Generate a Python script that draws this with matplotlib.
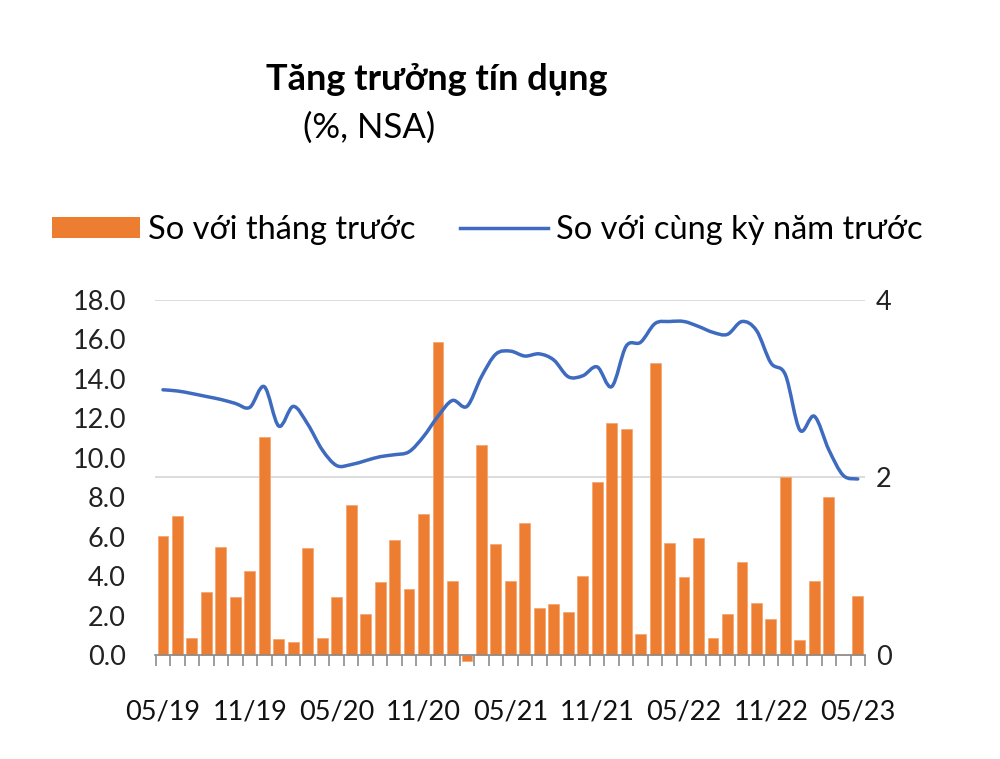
import numpy as np
import matplotlib.pyplot as plt
from matplotlib.path import Path
from matplotlib.patches import PathPatch, Patch
from matplotlib.lines import Line2D

plt.rcParams['font.family'] = ['Lato', 'Open Sans', 'DejaVu Sans']

# DATA (05/2019 - 05/2023, monthly)
tick_labels = ['05/19', '11/19', '05/20', '11/20', '05/21',
               '11/21', '05/22', '11/22', '05/23']

# so với tháng trước (%), right axis
mom = [1.34, 1.57, 0.19, 0.71, 1.22, 0.65, 0.95, 2.45, 0.18, 0.15,
       1.21, 0.19, 0.65, 1.69, 0.46, 0.82, 1.29, 0.74, 1.59, 3.52,
       0.83, -0.07, 2.36, 1.25, 0.83, 1.49, 0.53, 0.57, 0.48, 0.89,
       1.95, 2.61, 2.55, 0.24, 3.29, 1.26, 0.88, 1.32, 0.19, 0.46,
       1.05, 0.59, 0.41, 2.00, 0.17, 0.83, 1.78, 0.00, 0.66]

# so với cùng kỳ năm trước (%), left axis
yoy = [13.44, 13.38, 13.25, 13.10, 12.95, 12.75, 12.55, 13.60, 11.60, 12.60,
       11.70, 10.40, 9.60, 9.65, 9.85, 10.05, 10.15, 10.30, 11.07, 12.10,
       12.90, 12.60, 14.10, 15.25, 15.40, 15.15, 15.26, 14.95, 14.10, 14.15,
       14.60, 13.60, 15.65, 15.85, 16.80, 16.90, 16.90, 16.65, 16.35, 16.25,
       16.90, 16.45, 14.80, 14.20, 11.40, 12.10, 10.40, 9.10, 8.92]

ORANGE = '#ED7D31'
BLUE = '#3E6BBF'

x = np.arange(len(mom))

fig = plt.figure(figsize=(10, 7.59), dpi=100)
ax = fig.add_axes([0.155, 0.137, 0.71, 0.468])   # bars, right scale
ax2 = ax.twinx()                                  # line, left scale

# bars
ax.bar(x, mom, width=0.75, color=ORANGE, edgecolor='#F4A46C', linewidth=0.5,
       clip_on=False, zorder=2)
ax.set_ylim(0, 4)
ax.set_yticks([0, 2, 4])
ax.set_yticklabels(['0', '2', '4'])
ax.yaxis.tick_right()
ax.grid(axis='y', color='#D9D9D9', linewidth=1.3, zorder=0)
ax.set_axisbelow(True)
ax.set_xlim(-0.55, len(mom) - 0.55)

# smooth line (Excel style bezier through the points)
pts = np.column_stack([x, yoy]).astype(float)
verts = [pts[0]]
codes = [Path.MOVETO]
n = len(pts)
for i in range(n - 1):
    p0 = pts[max(i - 1, 0)]
    p1 = pts[i]
    p2 = pts[i + 1]
    p3 = pts[min(i + 2, n - 1)]
    c1 = p1 + (p2 - p0) / 6.0
    c2 = p2 - (p3 - p1) / 6.0
    verts += [c1, c2, p2]
    codes += [Path.CURVE4] * 3
ax2.add_patch(PathPatch(Path(verts, codes), facecolor='none', edgecolor=BLUE,
                        linewidth=2.5, capstyle='round', joinstyle='round', zorder=3))
ax2.set_ylim(0, 18)
ax2.set_yticks(np.arange(0, 19, 2))
ax2.set_yticklabels(['%.1f' % v for v in np.arange(0, 19, 2)])
ax2.yaxis.tick_left()

for a in (ax, ax2):
    for s in ('top', 'left', 'right', 'bottom'):
        a.spines[s].set_visible(False)

ax.spines['bottom'].set_visible(True)
ax.spines['bottom'].set_color('#8C8C8C')
ax.spines['bottom'].set_linewidth(1.2)

ax.tick_params(axis='y', length=0, pad=8, labelsize=19.5, labelcolor='#222222')
ax2.tick_params(axis='y', length=0, pad=21, labelsize=19.5, labelcolor='#222222')

ax.set_xticks(x[::6])
ax.set_xticklabels(tick_labels)
ax.set_xticks(np.arange(-0.5, len(mom), 1), minor=True)
ax.tick_params(axis='x', which='major', length=0, pad=32, labelsize=19.5, labelcolor='#111111')
ax.tick_params(axis='x', which='minor', length=8, width=1.2, color='#8C8C8C')

# title
fig.text(0.437, 0.895, 'Tăng trưởng tín dụng', ha='center', va='center',
         fontsize=26, fontweight='bold')
fig.text(0.369, 0.832, '(%, NSA)', ha='center', va='center', fontsize=25)

# legend
handles = [Patch(facecolor=ORANGE, edgecolor='none'),
           Line2D([0], [0], color=BLUE, linewidth=2.5)]
fig.legend(handles, ['So với tháng trước', 'So với cùng kỳ năm trước'],
           loc='center left', bbox_to_anchor=(0.052, 0.697), ncol=2,
           frameon=False, fontsize=23.5, handlelength=2.7, handleheight=0.65,
           handletextpad=0.25, columnspacing=1.35, borderpad=0, borderaxespad=0)

plt.savefig('out.png', dpi=100)
